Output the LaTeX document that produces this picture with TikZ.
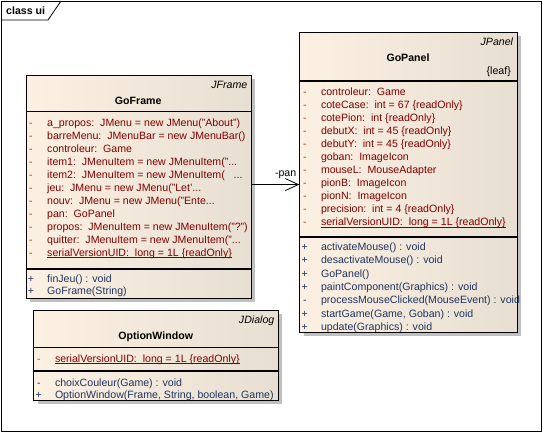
\documentclass[tikz,border=0pt]{standalone}
\usepackage{fontspec}
\setmainfont{Liberation Sans}
\usetikzlibrary{arrows.meta}
\definecolor{attrc}{HTML}{800000}
\definecolor{visac}{HTML}{B04010}
\definecolor{methc}{HTML}{203460}
\definecolor{fillL}{HTML}{FCF0E2}
\definecolor{fillR}{HTML}{E7DFD2}
\definecolor{shadowc}{HTML}{C0C0C0}
\newcommand\rowfont{\fontsize{10.6}{12}\selectfont}
\tikzset{
  txt/.style={inner sep=0pt, font=\rowfont},
  attrtxt/.style={txt, anchor=base west, text=attrc},
  methtxt/.style={txt, anchor=base west, text=methc},
  attrvis/.style={txt, anchor=base, text=visac},
  methvis/.style={txt, anchor=base, text=methc},
  classbox/.style={draw=black, line width=1.1pt, left color=fillL, right color=fillR, anchor=north west, inner sep=0pt},
  shadowbox/.style={fill=shadowc, draw=none, anchor=north west, inner sep=0pt},
  sepline/.style={draw=black, line width=1.1pt},
  assoc/.style={draw=black, line width=0.8pt, -{Straight Barb[length=13pt,width=12pt,line width=0.8pt]}},
}
\newcommand\arow[4]{%
  \node[attrvis] (#1v) at ({#2+5.5},{-(#3+3.7)}) {-};
  \node[attrtxt] (#1) at ({#2+21.5},{-(#3+3.7)}) {#4};}
\newcommand\srow[4]{%
  \arow{#1}{#2}{#3}{#4}
  \draw[attrc, line width=0.8pt] ([yshift=-1.8pt]#1.base west) -- ([yshift=-1.8pt]#1.base east);}
\newcommand\mrow[5]{%
  \node[methvis] (#1v) at ({#2+5.5},{-(#3+3.7)}) {#4};
  \node[methtxt] (#1) at ({#2+21.5},{-(#3+3.7)}) {#5};}
\begin{document}
\begin{tikzpicture}[x=1pt,y=1pt]
\useasboundingbox (0,0) rectangle (543,-433);
% frame
\node[draw=black, line width=0.8pt, anchor=north west, inner sep=0pt, minimum width=540pt, minimum height=430pt] (frame) at (1,-1) {};
\draw[line width=0.8pt] (1,-20) -- (48,-20) -- (61,-1);
\node[txt, font=\rowfont\bfseries, anchor=base west] (tab) at (6,-14.7) {class ui};
% shadows
\node[shadowbox, minimum width=225.5pt, minimum height=223pt] (gfs) at (29.5,-79) {};
\node[shadowbox, minimum width=217.4pt, minimum height=300.3pt] (gps) at (303.3,-35.7) {};
\node[shadowbox, minimum width=244.7pt, minimum height=90pt] (ows) at (37.3,-314) {};
% boxes
\node[classbox, minimum width=225.5pt, minimum height=223pt] (goframe) at (25.5,-75) {};
\node[classbox, minimum width=217.4pt, minimum height=300.3pt] (gopanel) at (299.3,-31.7) {};
\node[classbox, minimum width=244.7pt, minimum height=90pt] (optwin) at (33.3,-310) {};
% separators
\draw[sepline] (goframe.west |- 0,-111.7) -- (goframe.east |- 0,-111.7);
\draw[sepline] (goframe.west |- 0,-269) -- (goframe.east |- 0,-269);
\draw[sepline] (gopanel.west |- 0,-81) -- (gopanel.east |- 0,-81);
\draw[sepline] (gopanel.west |- 0,-237) -- (gopanel.east |- 0,-237);
\draw[sepline] (optwin.west |- 0,-347.7) -- (optwin.east |- 0,-347.7);
\draw[sepline] (optwin.west |- 0,-371) -- (optwin.east |- 0,-371);
% headers
\node[txt, anchor=base east, font=\rowfont\itshape] (gfst) at (247.5,-88.7) {JFrame};
\node[txt, anchor=base, font=\rowfont\bfseries] (gfname) at (138.25,-104.7) {GoFrame};
\node[txt, anchor=base east, font=\rowfont\itshape] (gpst) at (513.3,-45.4) {JPanel};
\node[txt, anchor=base, font=\rowfont\bfseries] (gpname) at (408,-62) {GoPanel};
\node[txt, anchor=base east] (gpleaf) at (511,-74.4) {\{leaf\}};
\node[txt, anchor=base east, font=\rowfont\itshape] (owst) at (274.5,-323.7) {JDialog};
\node[txt, anchor=base, font=\rowfont\bfseries] (owname) at (155.65,-339.4) {OptionWindow};
% GoFrame
\arow{gfa1}{25.5}{123.3}{a\_propos:\ \ JMenu = new JMenu("About")}
\arow{gfa2}{25.5}{136.2}{barreMenu:\ \ JMenuBar = new JMenuBar()}
\arow{gfa3}{25.5}{149.1}{controleur:\ \ Game}
\arow{gfa4}{25.5}{162}{item1:\ \ JMenuItem = new JMenuItem("...}
\arow{gfa5}{25.5}{174.9}{item2:\ \ JMenuItem = new JMenuItem(\ \ \ ...}
\arow{gfa6}{25.5}{187.8}{jeu:\ \ JMenu = new JMenu("Let'...}
\arow{gfa7}{25.5}{200.7}{nouv:\ \ JMenu = new JMenu("Ente...}
\arow{gfa8}{25.5}{213.6}{pan:\ \ GoPanel}
\arow{gfa9}{25.5}{226.5}{propos:\ \ JMenuItem = new JMenuItem("?")}
\arow{gfa10}{25.5}{239.4}{quitter:\ \ JMenuItem = new JMenuItem("...}
\srow{gfa11}{25.5}{252.3}{serialVersionUID:\ \ long = 1L \{readOnly\}}
\mrow{gfm1}{25.5}{278.3}{+}{finJeu() : void}
\mrow{gfm2}{25.5}{291}{+}{GoFrame(String)}
% GoPanel
\arow{gpa1}{299.3}{91.7}{controleur:\ \ Game}
\arow{gpa2}{299.3}{104.7}{coteCase:\ \ int = 67 \{readOnly\}}
\arow{gpa3}{299.3}{117.7}{cotePion:\ \ int \{readOnly\}}
\arow{gpa4}{299.3}{130.7}{debutX:\ \ int = 45 \{readOnly\}}
\arow{gpa5}{299.3}{143.7}{debutY:\ \ int = 45 \{readOnly\}}
\arow{gpa6}{299.3}{156.7}{goban:\ \ ImageIcon}
\arow{gpa7}{299.3}{169.7}{mouseL:\ \ MouseAdapter}
\arow{gpa8}{299.3}{182.7}{pionB:\ \ ImageIcon}
\arow{gpa9}{299.3}{195.7}{pionN:\ \ ImageIcon}
\arow{gpa10}{299.3}{208.7}{precision:\ \ int = 4 \{readOnly\}}
\srow{gpa11}{299.3}{221.7}{serialVersionUID:\ \ long = 1L \{readOnly\}}
\mrow{gpm1}{299.3}{246.7}{+}{activateMouse() : void}
\mrow{gpm2}{299.3}{260}{+}{desactivateMouse() : void}
\mrow{gpm3}{299.3}{273.3}{+}{GoPanel()}
\mrow{gpm4}{299.3}{286.7}{+}{paintComponent(Graphics) : void}
\mrow{gpm5}{299.3}{300}{-}{processMouseClicked(MouseEvent) : void}
\mrow{gpm6}{299.3}{313.3}{+}{startGame(Game, Goban) : void}
\mrow{gpm7}{299.3}{326.7}{+}{update(Graphics) : void}
% OptionWindow
\srow{owa1}{33.3}{358.3}{serialVersionUID:\ \ long = 1L \{readOnly\}}
\mrow{owm1}{33.3}{382.5}{-}{choixCouleur(Game) : void}
\mrow{owm2}{33.3}{395}{+}{OptionWindow(Frame, String, boolean, Game)}
% association
\draw[assoc] ([yshift=2.5pt]goframe.east) -- node[pos=0.71, txt, anchor=base, yshift=8pt] (panlbl) {-pan} ([yshift=2.5pt]goframe.east -| gopanel.west);
\end{tikzpicture}
\end{document}
